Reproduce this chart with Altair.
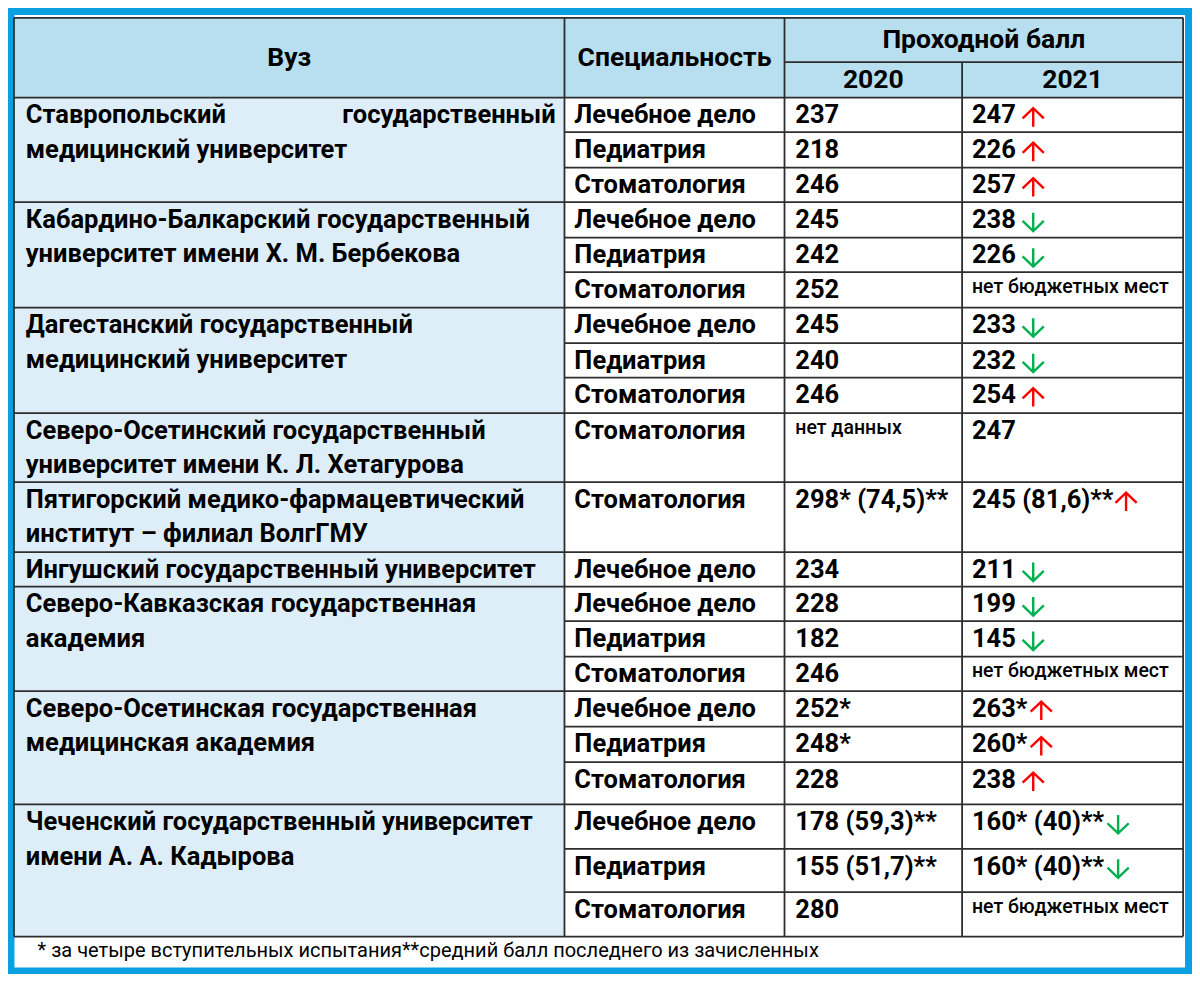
import altair as alt
import pandas as pd

# ---------------- data ----------------
vuz_groups = [
    ["Ставропольский|государственный", "медицинский университет"],
    ["Кабардино-Балкарский государственный", "университет имени Х. М. Бербекова"],
    ["Дагестанский государственный", "медицинский университет"],
    ["Северо-Осетинский государственный", "университет имени К. Л. Хетагурова"],
    ["Пятигорский медико-фармацевтический", "институт – филиал ВолгГМУ"],
    ["Ингушский государственный университет"],
    ["Северо-Кавказская государственная", "академия"],
    ["Северо-Осетинская государственная", "медицинская академия"],
    ["Чеченский государственный университет", "имени А. А. Кадырова"],
]
rows_per_group = [3, 3, 3, 1, 1, 1, 3, 3, 3]
specialty = ["Лечебное дело", "Педиатрия", "Стоматология",
             "Лечебное дело", "Педиатрия", "Стоматология",
             "Лечебное дело", "Педиатрия", "Стоматология",
             "Стоматология", "Стоматология", "Лечебное дело",
             "Лечебное дело", "Педиатрия", "Стоматология",
             "Лечебное дело", "Педиатрия", "Стоматология",
             "Лечебное дело", "Педиатрия", "Стоматология"]
score_2020 = ["237", "218", "246", "245", "242", "252", "245", "240", "246",
              "нет данных", "298* (74,5)**", "234", "228", "182", "246",
              "252*", "248*", "228", "178 (59,3)**", "155 (51,7)**", "280"]
score_2021 = ["247", "226", "257", "238", "226", "нет бюджетных мест",
              "233", "232", "254", "247", "245 (81,6)**", "211", "199", "145",
              "нет бюджетных мест", "263*", "260*", "238", "160* (40)**",
              "160* (40)**", "нет бюджетных мест"]
trend_2021 = ["up", "up", "up", "down", "down", "", "down", "down", "up", "",
              "up", "down", "down", "down", "", "up", "up", "up", "down", "down", ""]
header_main = ["Вуз", "Специальность", "Проходной балл"]
header_years = ["2020", "2021"]
footnote = "* за четыре вступительных испытания**средний  балл последнего из зачисленных"
small_texts = {"нет данных", "нет бюджетных мест"}

# ---------------- layout ----------------
REF_W, REF_H = 1200, 980
CH_W, CH_H = 1184, 966
SX = CH_W / REF_W
COL_X = [6, 564, 787, 967, 1191]
HEAD_TOP, HEAD_MID = 10, 55
ROW_Y = [91, 126, 162, 197, 233, 268, 304, 340, 375, 411, 481, 552, 587,
         622, 658, 693, 729, 765, 808, 853, 897, 942]
TXT_X = [18, 574, 798, 977]
FONT = "Roboto"
FS = 25.5
FS_HEAD = 26.5
FS_SMALL = 19.5
LINE_GAP = 35

BLUE = "#0aa1e2"
HEAD_FILL = "#b7dfef"
COL1_FILL = "#ddeef8"
LINE = "#2e2e2e"

X = alt.X("x:Q", scale=alt.Scale(domain=[0, REF_W], nice=False, zero=False), axis=None)
Y = alt.Y("y:Q", scale=alt.Scale(domain=[REF_H, 0], nice=False, zero=False), axis=None)

# group start rows
group_start = []
acc = 0
for n in rows_per_group:
    group_start.append(acc)
    acc += n

# ---- text tables ----
body_left, body_right, small, arrows = [], [], [], []
for g, lines in enumerate(vuz_groups):
    top = ROW_Y[group_start[g]]
    for k, line in enumerate(lines):
        y = top + 18 + LINE_GAP * k
        if "|" in line:
            a, b = line.split("|")
            body_left.append({"x": TXT_X[0], "y": y, "text": a})
            body_right.append({"x": 555, "y": y, "text": b})
        else:
            body_left.append({"x": TXT_X[0], "y": y, "text": line})

CW = {d: 0.562 for d in "0123456789"}
CW.update({" ": 0.25, "*": 0.47, "(": 0.35, ")": 0.35, ",": 0.22})


def est_w(s):
    return sum(CW.get(c, 0.55) for c in s) * FS / SX


for i in range(len(specialty)):
    y = ROW_Y[i] + 18
    body_left.append({"x": TXT_X[1], "y": y, "text": specialty[i]})
    for col, val in ((2, score_2020[i]), (3, score_2021[i])):
        if val in small_texts:
            small.append({"x": TXT_X[col], "y": ROW_Y[i] + 15, "text": val})
        else:
            body_left.append({"x": TXT_X[col], "y": y, "text": val})
    if trend_2021[i]:
        s = score_2021[i]
        gap = 8 if s[-1].isdigit() else 4
        arrows.append({"x": TXT_X[3] + est_w(s) + gap + 10.5, "y": ROW_Y[i] + 20,
                       "trend": trend_2021[i]})

header = [
    {"x": (COL_X[0] + COL_X[1]) / 2, "y": 51, "text": header_main[0]},
    {"x": (COL_X[1] + COL_X[2]) / 2, "y": 51, "text": header_main[1]},
    {"x": (COL_X[2] + COL_X[4]) / 2, "y": 32, "text": header_main[2]},
    {"x": (COL_X[2] + COL_X[3]) / 2, "y": 73, "text": header_years[0]},
    {"x": (COL_X[3] + COL_X[4]) / 2, "y": 73, "text": header_years[1]},
]

# ---- grid ----
group_bounds = set(ROW_Y[s] for s in group_start) | {ROW_Y[-1]}
hlines = [{"x": COL_X[0], "x2": COL_X[4], "y": HEAD_TOP, "y2": HEAD_TOP},
          {"x": COL_X[2], "x2": COL_X[4], "y": HEAD_MID, "y2": HEAD_MID}]
for yy in ROW_Y:
    x0 = COL_X[0] if yy in group_bounds else COL_X[1]
    hlines.append({"x": x0, "x2": COL_X[4], "y": yy, "y2": yy})
vlines = []
for j, xx in enumerate(COL_X):
    y0 = HEAD_MID if j == 3 else HEAD_TOP
    vlines.append({"x": xx, "x2": xx, "y": y0, "y2": ROW_Y[-1]})

fills = pd.DataFrame([
    {"x": COL_X[0], "x2": COL_X[4], "y": HEAD_TOP, "y2": ROW_Y[0], "c": HEAD_FILL},
    {"x": COL_X[0], "x2": COL_X[1], "y": ROW_Y[0], "y2": ROW_Y[-1], "c": COL1_FILL},
])
frame = pd.DataFrame([{"x": 3, "x2": 1196.5, "y": 3.5, "y2": 977}])


def rect_enc(ch):
    return ch.encode(x=X, x2="x2:Q", y=Y, y2="y2:Q")


frame_layer = rect_enc(alt.Chart(frame).mark_rect(
    fillOpacity=0, stroke=BLUE, strokeWidth=7))
fill_layer = rect_enc(alt.Chart(fills).mark_rect()).encode(
    color=alt.Color("c:N", scale=None))
hline_layer = rect_enc(alt.Chart(pd.DataFrame(hlines)).mark_rule(
    color=LINE, strokeWidth=1.8))
vline_layer = rect_enc(alt.Chart(pd.DataFrame(vlines)).mark_rule(
    color=LINE, strokeWidth=1.8))


def text_layer(rows, **mk):
    return alt.Chart(pd.DataFrame(rows)).mark_text(**mk).encode(
        x=X, y=Y, text="text:N")


base_txt = dict(font=FONT, fontWeight="bold", color="#000000", baseline="middle")
left_layer = text_layer(body_left, align="left", fontSize=FS, **base_txt)
right_layer = text_layer(body_right, align="right", fontSize=FS, **base_txt)
head_layer = text_layer(header, align="center", fontSize=FS_HEAD, **base_txt)
small_layer = text_layer(small, align="left", font=FONT, fontSize=FS_SMALL,
                         fontWeight=500, color="#000000", baseline="middle")
foot_layer = text_layer([{"x": 30, "y": 957, "text": footnote}], align="left",
                        font=FONT, fontSize=20, color="#000000",
                        baseline="middle")

UP = "M0,1 L0,-1 M-1.15,0.1 L0,-1 L1.15,0.1"
DOWN = "M0,-1 L0,1 M-1.15,-0.1 L0,1 L1.15,-0.1"
arr_df = pd.DataFrame(arrows)
up_layer = alt.Chart(arr_df[arr_df.trend == "up"]).mark_point(
    shape=UP, filled=False, color="#ff0000", strokeWidth=2.4, size=340,
    opacity=1).encode(x=X, y=Y)
down_layer = alt.Chart(arr_df[arr_df.trend == "down"]).mark_point(
    shape=DOWN, filled=False, color="#00b050", strokeWidth=2.4, size=340,
    opacity=1).encode(x=X, y=Y)

chart = alt.layer(
    fill_layer, frame_layer, hline_layer, vline_layer,
    left_layer, right_layer, head_layer, small_layer, foot_layer,
    up_layer, down_layer,
).properties(width=CH_W, height=CH_H, padding=0, autosize="none",
             background="#ffffff").configure_view(stroke=None)

chart.save("out.html", embed_options={"renderer": "svg", "actions": False})
